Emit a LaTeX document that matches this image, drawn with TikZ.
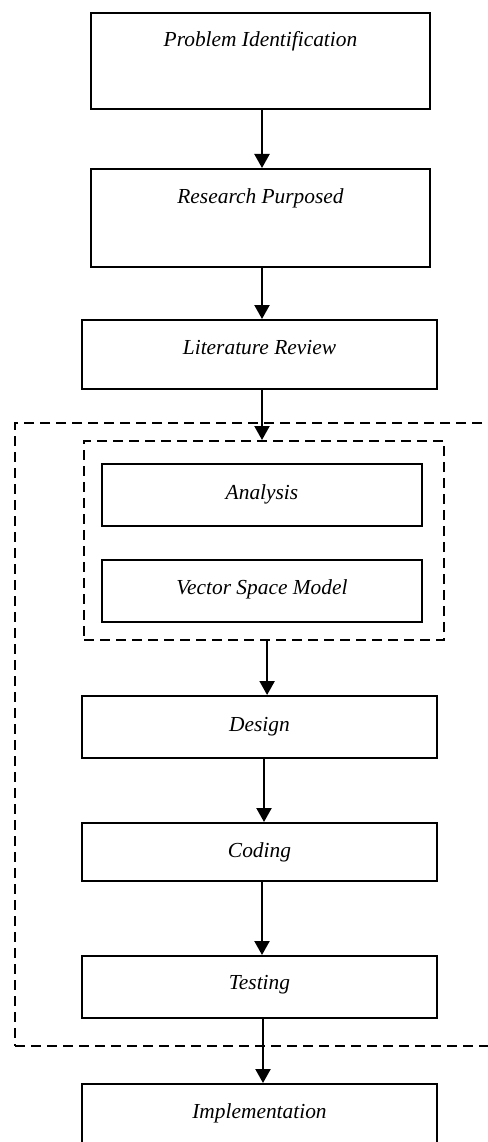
\documentclass[tikz,border=0pt]{standalone}
\usepackage{fontspec}
\setmainfont{Liberation Serif}
\usetikzlibrary{arrows.meta}
\begin{document}
\begin{tikzpicture}[x=1pt,y=-1pt,
 box/.style={draw, line width=1.6pt, inner sep=0pt, anchor=north, font=\fontsize{21.4}{25}\selectfont\itshape},
 wide/.style={minimum width=339pt},
 wider/.style={minimum width=355pt},
 arr/.style={line width=2.2pt, -{Triangle[width=15pt,length=14pt]}},
 dashbox/.style={draw, line width=2.2pt, dash pattern=on 10pt off 6pt, inner sep=0pt, anchor=north west}]
\useasboundingbox (0,0) rectangle (487,1142);
\node[dashbox, minimum width=490pt, minimum height=623pt] (outer) at (14,422) {};
\node[dashbox, minimum width=360pt, minimum height=199pt] (grp) at (83,440) {};
\node[box, wide, text height=34pt, text depth=62pt] (b1) at (260.5,12) {Problem Identification};
\node[box, wide, text height=35pt, text depth=63pt] (b2) at (260.5,168) {Research Purposed};
\node[box, wider, text height=35pt, text depth=34pt] (b3) at (259.5,319) {Literature Review};
\node[box, minimum width=320pt, text height=36pt, text depth=26pt] (an) at (262,463) {Analysis};
\node[box, minimum width=320pt, text height=35pt, text depth=27pt] (vsm) at (262,559) {Vector Space Model};
\node[box, wider, text height=36pt, text depth=26pt] (des) at (259.5,695) {Design};
\node[box, wider, text height=35pt, text depth=23pt] (cod) at (259.5,822) {Coding};
\node[box, wider, text height=34pt, text depth=28pt] (tst) at (259.5,955) {Testing};
\node[box, wider, text height=35pt, text depth=40pt] (imp) at (259.5,1083) {Implementation};
\draw[arr] ([xshift=1.5pt]b1.south) -- ([xshift=1.5pt]b1.south |- b2.north);
\draw[arr] ([xshift=1.5pt]b2.south) -- ([xshift=1.5pt]b2.south |- b3.north);
\draw[arr] ([xshift=2.5pt]b3.south) -- ([xshift=2.5pt]b3.south |- grp.north);
\draw[arr] ([xshift=3pt]grp.south) -- ([xshift=3pt]grp.south |- des.north);
\draw[arr] ([xshift=4.5pt]des.south) -- ([xshift=4.5pt]des.south |- cod.north);
\draw[arr] ([xshift=2.5pt]cod.south) -- ([xshift=2.5pt]cod.south |- tst.north);
\draw[arr] ([xshift=3.5pt]tst.south) -- ([xshift=3.5pt]tst.south |- imp.north);
\end{tikzpicture}
\end{document}
